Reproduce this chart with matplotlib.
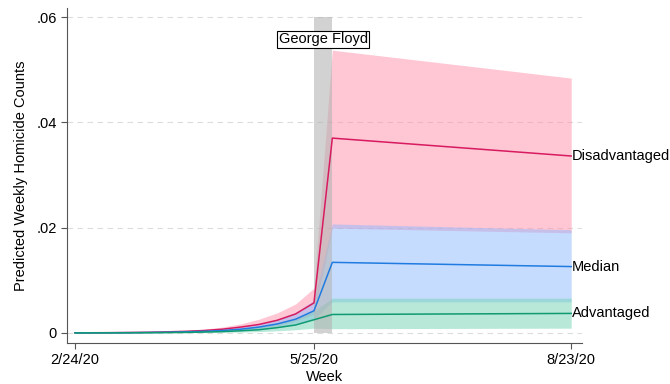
import numpy as np
import matplotlib.pyplot as plt
from matplotlib.ticker import FuncFormatter

plt.rcParams['font.family'] = ['Liberation Sans', 'DejaVu Sans']

# weeks since 2/24/20; 13 = week of 5/25/20
weeks = [0, 1, 2, 3, 4, 5, 6, 7, 8, 9, 10, 11, 12, 13, 14, 27]

disadv = [0.00002, 0.00003, 0.00005, 0.00008, 0.00012, 0.0002, 0.0003, 0.00045,
          0.0007, 0.0011, 0.0016, 0.0024, 0.0036, 0.0057, 0.0370, 0.0336]
disadv_hi = [0.00003, 0.00005, 0.00008, 0.00012, 0.0002, 0.0003, 0.00045, 0.0007,
             0.0011, 0.0017, 0.0026, 0.0038, 0.0055, 0.0085, 0.0537, 0.0484]
disadv_lo = [0.00001, 0.00001, 0.00002, 0.00004, 0.00006, 0.0001, 0.00016, 0.00025,
             0.0004, 0.0006, 0.0009, 0.0014, 0.0022, 0.0036, 0.0199, 0.0190]

median = [0.00001, 0.00002, 0.00003, 0.00005, 0.00008, 0.00012, 0.0002, 0.0003,
          0.00045, 0.0007, 0.0011, 0.0017, 0.0026, 0.0042, 0.0134, 0.0126]
median_hi = [0.00002, 0.00003, 0.00005, 0.00008, 0.00012, 0.0002, 0.0003, 0.00045,
             0.0007, 0.0011, 0.0017, 0.0026, 0.0039, 0.0062, 0.0207, 0.0196]
median_lo = [0.0, 0.00001, 0.00002, 0.00003, 0.00005, 0.00007, 0.00012, 0.00018,
             0.0003, 0.00045, 0.0007, 0.001, 0.0016, 0.0026, 0.0059, 0.0059]

adv = [0.0, 0.00001, 0.00001, 0.00002, 0.00004, 0.00006, 0.0001, 0.00016,
       0.00025, 0.0004, 0.0006, 0.001, 0.0015, 0.0025, 0.0035, 0.0037]
adv_hi = [0.00001, 0.00002, 0.00003, 0.00005, 0.00008, 0.00012, 0.0002, 0.0003,
          0.00045, 0.0007, 0.0011, 0.0017, 0.0026, 0.0042, 0.0066, 0.0066]
adv_lo = [0.0, 0.0, 0.0, 0.00001, 0.00002, 0.00003, 0.00004, 0.00006,
          0.0001, 0.00016, 0.00025, 0.0004, 0.0006, 0.0009, 0.0008, 0.0009]

tick_pos = [0, 13, 27]
tick_labels = ['2/24/20', '5/25/20', '8/23/20']
yticks = [0, 0.02, 0.04, 0.06]

series = [
    ('Disadvantaged', disadv, disadv_lo, disadv_hi, '#d81b60', '#ff8fab'),
    ('Median', median, median_lo, median_hi, '#1f7be0', '#8ebaff'),
    ('Advantaged', adv, adv_lo, adv_hi, '#109a72', '#72d2b2'),
]

fig = plt.figure(figsize=(6.7, 3.84), dpi=100)
ax = fig.add_axes([0.1, 0.107, 0.769, 0.872])

for yt in yticks:
    ax.axhline(yt, color='#dcdcdc', lw=0.8, ls=(0, (5, 4)), zorder=0)

for name, y, lo, hi, lc, fc in series:
    ax.fill_between(weeks, lo, hi, color=fc, alpha=0.5, lw=0, zorder=1)

# week of George Floyd's murder
ax.fill_between([13, 14], 0, 0.06, color='#b4b4b4', alpha=0.6, lw=0, zorder=2)

for name, y, lo, hi, lc, fc in series:
    ax.plot(weeks, y, color=lc, lw=1.1, zorder=3)
    ax.text(27.05, y[-1], name, fontsize=10.5, va='center', ha='left', clip_on=False)

ax.text(13.5, 0.0558, 'George Floyd', fontsize=10.5, ha='center', va='center',
        bbox=dict(boxstyle='square,pad=0.1', fc='white', ec='black', lw=0.8), zorder=4)

ax.set_xlim(-0.44, 27.6)
ax.set_ylim(-0.0019, 0.0617)
ax.set_xticks(tick_pos)
ax.set_xticklabels(tick_labels)
ax.set_yticks(yticks)
ax.yaxis.set_major_formatter(FuncFormatter(lambda v, p: '0' if v == 0 else ('%.2f' % v).lstrip('0')))
ax.tick_params(labelsize=10.5, color='#555555', length=4)
for s in ['top', 'right']:
    ax.spines[s].set_visible(False)
for s in ['left', 'bottom']:
    ax.spines[s].set_color('#555555')
    ax.spines[s].set_linewidth(0.8)

ax.set_xlabel('Week', fontsize=10.5, labelpad=2)
ax.set_ylabel('Predicted Weekly Homicide Counts', fontsize=10.5, labelpad=6)

fig.savefig('out.png', dpi=100)
